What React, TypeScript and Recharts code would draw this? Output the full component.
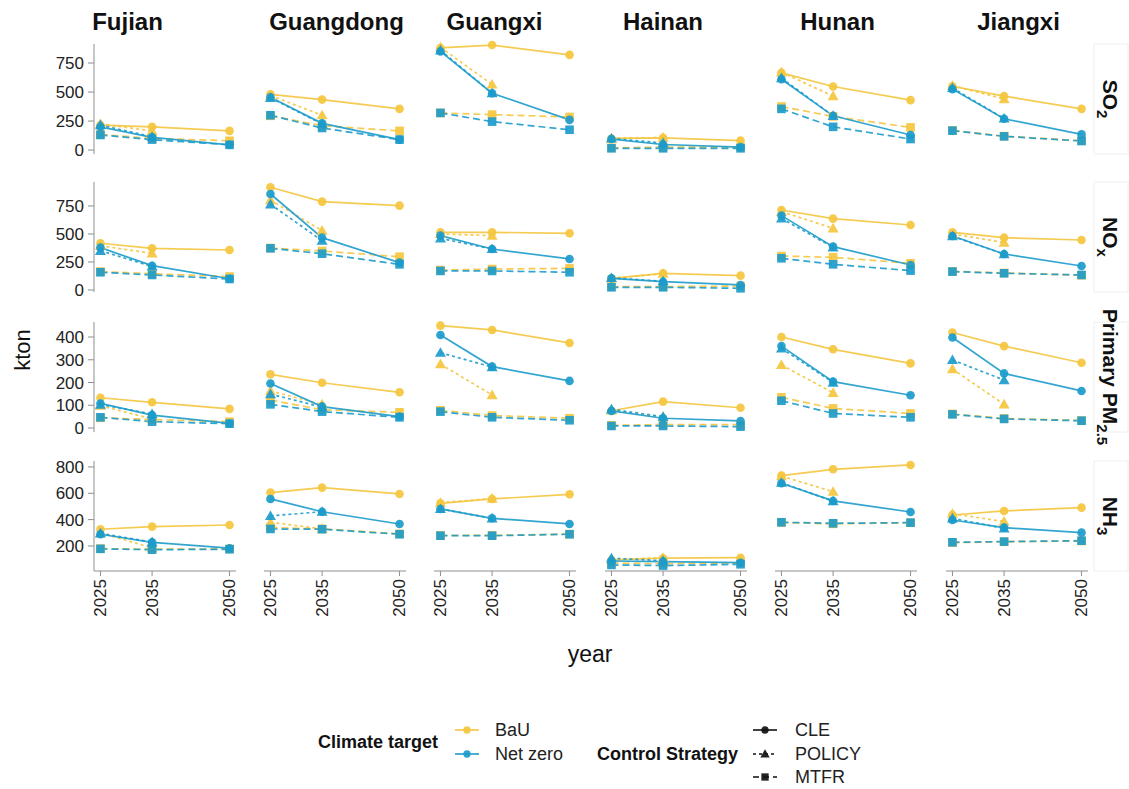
import React from "react";
import { LineChart, Line, XAxis, YAxis } from "recharts";

const regions = ["Fujian", "Guangdong", "Guangxi", "Hainan", "Hunan", "Jiangxi"];
const years = [2025, 2035, 2050];

// kton per region: [2025, 2035, 2050]; POLICY runs only go to 2035
const so2BauCle = [[215, 200, 165], [480, 435, 355], [880, 905, 820], [100, 105, 82], [665, 548, 430], [550, 465, 355]];
const so2NzCle = [[200, 110, 45], [455, 230, 90], [850, 490, 260], [95, 48, 25], [610, 295, 130], [525, 270, 135]];
const so2BauPolicy = [[225, 165], [470, 300], [885, 565], [100, 108], [670, 465], [555, 440]];
const so2NzPolicy = [[215, 115], [450, 225], [860, 490], [100, 60], [620, 295], [535, 272]];
const so2BauMtfr = [[135, 100, 80], [295, 210, 165], [320, 305, 285], [20, 25, 25], [375, 290, 195], [170, 120, 80]];
const so2NzMtfr = [[130, 90, 45], [300, 190, 90], [320, 245, 175], [15, 15, 15], [355, 200, 95], [167, 118, 78]];

const noxBauCle = [[417, 372, 357], [917, 789, 753], [515, 515, 506], [104, 149, 128], [714, 637, 580], [515, 467, 446]];
const noxNzCle = [[378, 217, 100], [857, 467, 244], [485, 366, 277], [104, 74, 45], [664, 387, 223], [482, 321, 214]];
const noxBauPolicy = [[395, 327], [803, 530], [500, 485], [104, 145], [700, 551], [500, 423]];
const noxNzPolicy = [[350, 210], [765, 440], [461, 366], [108, 78], [640, 380], [480, 320]];
const noxBauMtfr = [[165, 145, 120], [375, 348, 297], [178, 187, 193], [30, 30, 35], [303, 292, 238], [166, 152, 132]];
const noxNzMtfr = [[158, 134, 98], [372, 324, 229], [170, 170, 158], [24, 24, 15], [283, 229, 173], [164, 149, 134]];

const pmBauCle = [[133, 113, 84], [236, 199, 157], [450, 431, 374], [76, 116, 89], [400, 346, 284], [420, 360, 287]];
const pmNzCle = [[108, 57, 20], [196, 94, 50], [409, 270, 207], [75, 43, 31], [360, 204, 144], [398, 240, 163]];
const pmBauPolicy = [[98, 40], [163, 104], [281, 145], [78, 48], [277, 155], [259, 104]];
const pmNzPolicy = [[103, 62], [149, 92], [331, 268], [82, 50], [350, 200], [299, 211]];
const pmBauMtfr = [[45, 37, 28], [123, 80, 69], [78, 55, 43], [12, 15, 15], [135, 86, 64], [62, 42, 33]];
const pmNzMtfr = [[47, 28, 19], [104, 72, 47], [72, 47, 34], [9, 9, 6], [120, 64, 47], [60, 40, 32]];

const nh3BauCle = [[327, 347, 359], [605, 643, 595], [524, 557, 592], [94, 107, 111], [734, 782, 815], [435, 466, 491]];
const nh3NzCle = [[289, 228, 183], [557, 460, 367], [481, 410, 367], [86, 81, 73], [676, 542, 458], [397, 339, 301]];
const nh3BauPolicy = [[300, 185], [380, 330], [529, 560], [96, 111], [730, 612], [445, 385]];
const nh3NzPolicy = [[296, 230], [428, 460], [481, 410], [107, 88], [680, 540], [410, 334]];
const nh3BauMtfr = [[180, 175, 178], [340, 330, 292], [280, 280, 290], [70, 65, 72], [378, 368, 376], [225, 232, 238]];
const nh3NzMtfr = [[178, 172, 175], [329, 327, 289], [278, 278, 289], [56, 51, 61], [380, 372, 377], [228, 233, 240]];

const pollutantNames = ["SO", "NO", "Primary PM", "NH"];
const pollutantSubs = ["2", "x", "2.5", "3"];
const yTicks = [[0, 250, 500, 750], [0, 250, 500, 750], [0, 100, 200, 300, 400], [200, 400, 600, 800]];

const tables = [
  [so2BauCle, so2BauPolicy, so2BauMtfr, so2NzCle, so2NzPolicy, so2NzMtfr],
  [noxBauCle, noxBauPolicy, noxBauMtfr, noxNzCle, noxNzPolicy, noxNzMtfr],
  [pmBauCle, pmBauPolicy, pmBauMtfr, pmNzCle, pmNzPolicy, pmNzMtfr],
  [nh3BauCle, nh3BauPolicy, nh3BauMtfr, nh3NzCle, nh3NzPolicy, nh3NzMtfr],
];

const YELLOW = "#F4C53E";
const BLUE = "#1C9BCB";
const FONT = "'Liberation Sans', Arial, sans-serif";

const seriesDefs = [
  { key: "bauCle", color: YELLOW, dash: undefined, shape: "circle" },
  { key: "bauPolicy", color: YELLOW, dash: "3 3", shape: "triangle" },
  { key: "bauMtfr", color: YELLOW, dash: "7 4", shape: "square" },
  { key: "nzCle", color: BLUE, dash: undefined, shape: "circle" },
  { key: "nzPolicy", color: BLUE, dash: "3 3", shape: "triangle" },
  { key: "nzMtfr", color: BLUE, dash: "7 4", shape: "square" },
];

// panel geometry
const PLOT_W = 142;
const PLOT_H = 110;
const PAD = 8;
const colLeft = (c: number) => 93.5 + c * 170.4;
const rowTop = [44, 182, 322, 461];
const rowDomains = [[-34, 914], [-18, 964], [-17.5, 466], [10, 845]];
const titleCenters = [127.5, 336.5, 494.5, 663, 837.5, 1018.5];

function Marker({ shape, x, y, color, s = 1 }: { shape: string; x: number; y: number; color: string; s?: number }) {
  if (shape === "circle") return <circle cx={x} cy={y} r={4.3 * s} fill={color} fillOpacity={0.92} />;
  if (shape === "triangle") {
    const h = 5.5 * s;
    return <polygon points={`${x},${y - h} ${x - h},${y + h * 0.75} ${x + h},${y + h * 0.75}`} fill={color} fillOpacity={0.92} />;
  }
  const a = 4.3 * s;
  return <rect x={x - a} y={y - a} width={a * 2} height={a * 2} fill={color} fillOpacity={0.92} />;
}

const makeDot = (shape: string, color: string) => (props: any) => {
  const { cx, cy, index, value } = props;
  if (cx == null || cy == null || value == null) return <g key={`e-${index}`} />;
  return <Marker key={`m-${index}`} shape={shape} x={cx} y={cy} color={color} />;
};

const YearTick = (props: any) => {
  const { x, y, payload } = props;
  return (
    <text x={x} y={y} transform={`rotate(-90 ${x} ${y})`} textAnchor="end" dy="0.35em" fontSize={17} fill="#222" fontFamily={FONT}>
      {payload.value}
    </text>
  );
};

function Panel({ row, col }: { row: number; col: number }) {
  const series = tables[row];
  const data = years.map((year, k) => {
    const d: any = { year };
    seriesDefs.forEach((s, i) => {
      const v = series[i][col][k];
      d[s.key] = v === undefined ? null : v;
    });
    return d;
  });
  const yW = col === 0 ? 70 : 0;
  const xH = row === 3 ? 60 : 0;
  return (
    <div style={{ position: "absolute", left: colLeft(col) - PAD - yW, top: rowTop[row] - PAD }}>
      <LineChart
        width={PAD + yW + PLOT_W + PAD}
        height={PAD + PLOT_H + xH + PAD}
        data={data}
        margin={{ top: PAD, right: PAD, bottom: PAD, left: PAD }}
      >
        <XAxis
          dataKey="year"
          type="number"
          domain={[2023.75, 2051.25]}
          ticks={years}
          hide={row !== 3}
          height={xH}
          tickSize={5}
          tickMargin={3}
          tick={<YearTick />}
          stroke="#8f8f8f"
          interval={0}
        />
        <YAxis
          type="number"
          domain={rowDomains[row]}
          ticks={yTicks[row]}
          hide={col !== 0}
          width={yW}
          tickSize={6}
          tickMargin={4}
          stroke="#8f8f8f"
          tick={{ fontSize: 17, fill: "#222", fontFamily: FONT }}
          interval={0}
        />
        {seriesDefs.map((s) => (
          <Line
            key={s.key}
            dataKey={s.key}
            type="linear"
            stroke={s.color}
            strokeOpacity={0.9}
            strokeWidth={1.7}
            strokeDasharray={s.dash}
            dot={makeDot(s.shape, s.color)}
            activeDot={false}
            connectNulls={false}
            isAnimationActive={false}
          />
        ))}
      </LineChart>
    </div>
  );
}

function LegendKey({ x, y, color, dash, shape }: { x: number; y: number; color: string; dash?: string; shape: string }) {
  return (
    <g>
      <line x1={x} x2={x + 24} y1={y} y2={y} stroke={color} strokeWidth={1.6} strokeDasharray={dash} />
      <Marker shape={shape} x={x + 12} y={y} color={color} s={0.85} />
    </g>
  );
}

export default function App() {
  const cells: React.ReactNode[] = [];
  for (let r = 0; r < 4; r++) for (let c = 0; c < 6; c++) cells.push(<Panel key={`${r}-${c}`} row={r} col={c} />);

  return (
    <div style={{ position: "absolute", left: 0, top: 0, width: 1129, height: 789, background: "#fff", fontFamily: FONT }}>
      {cells}
      <svg width={1129} height={789} style={{ position: "absolute", left: 0, top: 0, pointerEvents: "none" }} fontFamily={FONT}>
        {regions.map((name, c) => (
          <text key={name} x={titleCenters[c]} y={30} textAnchor="middle" fontSize={24} fontWeight="bold" fill="#111">
            {name}
          </text>
        ))}
        {pollutantNames.map((name, r) => {
          const cy = rowTop[r] + PLOT_H / 2;
          return (
            <g key={name}>
              <rect x={1094} y={rowTop[r]} width={34} height={PLOT_H} fill="#fff" stroke="#efefef" />
              <text x={1103} y={cy} transform={`rotate(90 1103 ${cy})`} textAnchor="middle" fontSize={21} fontWeight="bold" fill="#111">
                <tspan>{name}</tspan>
                <tspan dy={6} fontSize={15}>{pollutantSubs[r]}</tspan>
              </text>
            </g>
          );
        })}
        <text x={22} y={350} transform="rotate(-90 22 350)" textAnchor="middle" dominantBaseline="central" fontSize={22} fill="#111">
          kton
        </text>
        <text x={590} y={662} textAnchor="middle" fontSize={23} fill="#111">
          year
        </text>

        <text x={318} y={748} fontSize={18} fontWeight="bold" fill="#111">Climate target</text>
        <LegendKey x={455} y={730} color={YELLOW} shape="circle" />
        <text x={495} y={736} fontSize={18} fill="#222">BaU</text>
        <LegendKey x={455} y={754} color={BLUE} shape="circle" />
        <text x={495} y={760} fontSize={18} fill="#222">Net zero</text>

        <text x={597} y={760} fontSize={18} fontWeight="bold" fill="#111">Control Strategy</text>
        <LegendKey x={753} y={730} color="#111" shape="circle" />
        <text x={795} y={736} fontSize={18} fill="#222">CLE</text>
        <LegendKey x={753} y={754} color="#111" dash="3 3" shape="triangle" />
        <text x={795} y={760} fontSize={18} fill="#222">POLICY</text>
        <LegendKey x={753} y={777} color="#111" dash="6 4" shape="square" />
        <text x={795} y={783} fontSize={18} fill="#222">MTFR</text>
      </svg>
    </div>
  );
}
